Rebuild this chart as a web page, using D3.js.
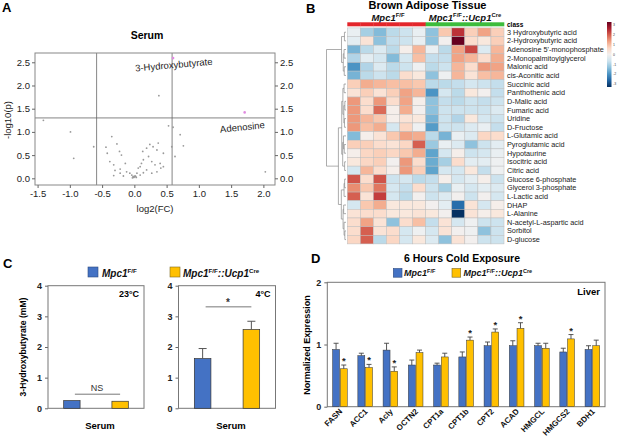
<!DOCTYPE html>
<html>
<head>
<meta charset="utf-8">
<script src="https://cdn.jsdelivr.net/npm/d3@7"></script>
<style>
  body { margin: 0; background: #fff; }
  svg { font-family: "Liberation Sans", Arial, sans-serif; }
</style>
</head>
<body>
<div id="chart"></div>
<script>
// ---------- data ----------
// A: volcano plot (serum)
const volcanoFC = [-1.41,-0.99,-0.94,-0.63,0.38,0.53,0.60,0.71,0.76,0.63,0.58,2.03,-0.35,-0.27,-0.44,-0.42,-0.38,-0.32,-0.30,-0.32,-0.23,-0.20,-0.14,-0.12,-0.04,-0.02,0.01,0.04,0.06,0.09,0.11,0.14,0.13,0.19,0.24,0.29,0.35,0.37,0.22,0.27,0.32,0.40,0.45,0.41,0.35,0.27,0.19,0.14,0.09,0.03,-0.03,-0.07,-0.17,-0.22,-0.22,0.45,0.00,-0.01,0.02];
const volcanoLogP = [1.25,1.00,0.43,0.68,1.78,1.13,1.10,0.94,0.70,0.47,0.68,0.14,0.90,0.74,0.67,0.54,0.36,0.29,0.17,0.06,0.58,0.50,0.32,0.14,0.07,0.04,0.05,0.11,0.22,0.25,0.32,0.40,0.58,0.65,0.73,0.68,0.61,0.76,0.47,0.36,0.29,0.32,0.54,0.22,0.14,0.11,0.18,0.12,0.07,0.02,0.01,0.11,0.05,0.11,0.20,0.25,0.03,0.02,0.04];
const sigNames = ["3-Hydroxybutyrate", "Adenosine"];
const sigFC = [0.60, 1.71];
const sigLogP = [2.59, 1.42];
const volcanoXTicks = [-1.5, -1.0, -0.5, 0.0, 0.5, 1.0, 1.5, 2.0];
const volcanoYTicks = [0.0, 0.5, 1.0, 1.5, 2.0, 2.5];

// B: heatmap (brown adipose tissue)
const metabolites = ["3 Hydroxybutyric acid","2-Hydroxybutyric acid","Adenosine 5'-monophosphate","2-Monopalmitoylglycerol","Malonic acid","cis-Aconitic acid","Succinic acid","Panthothenic acid","D-Malic acid","Fumaric acid","Uridine","D-Fructose","L-Glutamic acid","Pyroglutamic acid","Hypotaurine","Isocitric acid","Citric acid","Glucose 6-phosphate","Glycerol 3-phosphate","L-Lactic acid","DHAP","L-Alanine","N-acetyl-L-aspartic acid","Sorbitol","D-glucose"];
const sampleGroups = ["F","F","F","F","F","F","C","C","C","C","C","C"];
const heatValues = [
  [-0.2,-1.0,-1.3,-0.8,-0.6,-0.2, -1.2, 0.8, 2.2, 0.7, 1.2, 0.7],
  [-0.3, 0.4,-1.2,-0.7,-0.6,-0.2, -1.2, 0.0, 3.0, 0.5, 0.3, 0.7],
  [-1.4,-0.8,-0.4,-0.8, 0.1, 1.0, -0.2,-0.8, 1.2, 2.0,-0.4, 1.0],
  [-0.9,-0.3,-0.5,-1.3,-0.5, 0.9, -0.7,-0.7, 1.2, 1.0, 0.5, 1.1],
  [-1.8,-0.9,-0.4,-0.8,-0.6,-0.1, -0.8,-0.6, 1.0, 0.5, 1.3, 1.2],
  [-1.4,-0.8,-0.6,-0.8, 0.5, 0.3, -1.2,-0.1, 1.0, 0.4, 0.9, 1.0],
  [ 0.7, 1.1, 1.0, 0.9, 0.9, 0.8, -0.8,-0.8,-0.7,-0.5,-0.6,-0.7],
  [ 0.4, 0.7, 0.4, 0.7, 1.2, 1.0, -1.8,-0.5,-0.8, 0.3, 0.0,-0.7],
  [ 1.3, 0.5, 1.3, 0.5, 1.2, 0.1, -1.2,-0.7,-0.8,-0.6,-0.7,-0.6],
  [ 1.3, 0.5, 1.7, 0.1, 1.1, 0.0, -1.2,-0.6,-0.6,-0.6,-0.6,-0.4],
  [ 1.3, 1.0, 0.8, 0.1, 0.4, 0.3, -1.4,-0.6,-0.9, 0.3,-0.5,-0.6],
  [ 1.3, 0.9, 1.1,-0.5, 0.6,-0.1, -1.7,-0.6,-0.6,-0.4,-0.2,-0.7],
  [-1.3, 0.1, 0.4, 0.8, 1.2, 1.1, -0.8,-1.4,-0.2,-0.4, 0.6, 0.5],
  [ 0.7, 0.7, 0.5, 0.4, 0.6, 1.8, -1.1,-0.2,-0.4,-1.2,-0.6,-0.3],
  [ 0.1, 0.6, 0.7, 0.6, 0.8, 1.1, -1.6,-0.5, 0.1,-0.6,-0.5,-0.2],
  [ 0.3, 0.6, 0.7, 0.0, 1.3, 0.5, -1.5,-1.0, 0.5,-0.3,-0.3,-0.1],
  [-0.5, 1.0, 0.5, 0.1, 1.3, 0.7, -1.6,-0.5,-0.5, 0.3,-0.7,-0.1],
  [ 1.9, 0.5, 1.9,-0.6,-0.5,-0.8, -0.7, 0.1,-0.5,-0.3, 0.1,-0.6],
  [ 1.4, 0.8, 1.6,-0.5,-0.7, 0.5, -0.6,-1.0,-0.2,-0.5,-0.3,-0.4],
  [ 1.8, 0.4, 2.1,-0.5,-0.8, 0.0, -0.6,-0.4, 0.0,-0.6, 0.0,-0.5],
  [-0.5, 0.8, 1.1, 0.3, 0.3, 0.3,  0.0,-0.3,-2.3, 0.4,-0.5, 0.1],
  [ 0.4, 0.5, 0.5, 0.3, 0.3, 0.4,  0.3, 0.0,-3.0, 0.4, 0.1, 0.3],
  [ 0.5, 1.2, 0.4,-1.2, 0.5, 0.9, -0.7, 0.4,-0.5,-0.1,-0.6,-0.6],
  [ 0.5, 1.8, 0.4, 0.5,-0.5,-0.1, -0.5, 0.4, 0.0,-0.1,-1.2,-0.6],
  [ 0.6, 1.8,-0.8, 0.6,-0.5, 0.3, -0.4,-1.2, 0.4, 0.0,-0.6,-0.6]
];
// row dendrogram: [left, right, height]; numbers are row indices
const rowTree = [
  [[0, 1, 0.8], [[2, 3, 1.0], [4, 5, 0.9], 1.4], 2.3],
  [
    [[[6, 7, 1.0], [[8, 9, 0.6], [10, 11, 0.8], 1.1], 1.6], [[12, [13, 14, 0.9], 1.3], [15, 16, 0.7], 1.7], 2.2],
    [[[17, 18, 0.7], 19, 1.0], [[20, 21, 1.2], [22, [23, 24, 0.6], 1.0], 1.5], 2.4],
    3.9
  ],
  10
];
const legendTicks = [3, 2, 1, 0, -1, -2, -3];

// C: serum 3-hydroxybutyrate
const genotypes = ["Mpc1F/F", "Mpc1F/F::Ucp1Cre"];
const serum23 = [0.25, 0.23];
const serum23Err = [0, 0];
const serum4 = [1.62, 2.57];
const serum4Err = [0.33, 0.27];
const serumTicks = [0, 1, 2, 3, 4];

// D: liver gene expression after 6 h cold
const genes = ["FASN","ACC1","Acly","OCTN2","CPT1a","CPT1b","CPT2","ACAD","HMGCL","HMGCS2","BDH1"];
const liverWT = [0.92, 0.82, 0.91, 0.67, 0.67, 0.80, 0.98, 0.98, 0.98, 0.88, 0.92];
const liverWTErr = [0.10, 0.04, 0.11, 0.08, 0.03, 0.08, 0.06, 0.08, 0.04, 0.06, 0.06];
const liverKO = [0.61, 0.63, 0.57, 0.87, 0.80, 1.07, 1.20, 1.26, 0.94, 1.09, 0.98];
const liverKOErr = [0.06, 0.05, 0.07, 0.04, 0.06, 0.05, 0.05, 0.09, 0.08, 0.07, 0.09];
const liverSig = [1, 1, 1, 0, 0, 1, 1, 1, 0, 1, 0];

const blue = "#4472c4", yellow = "#ffc000";

// ---------- svg ----------
const svg = d3.select("#chart").append("svg")
  .attr("width", 617).attr("height", 446);

function panelLetter(t, x, y) {
  svg.append("text").attr("x", x).attr("y", y)
    .attr("font-size", 13).attr("font-weight", "bold").text(t);
}

// genotype label with superscripts
function genoLabel(g, x, y, size, cre, anchor) {
  const t = g.append("text").attr("x", x).attr("y", y)
    .attr("font-size", size).attr("font-weight", "bold")
    .attr("font-style", "italic").attr("fill", "#111")
    .attr("text-anchor", anchor || "start");
  const up = size * 0.38, sup = size * 0.62;
  t.append("tspan").text("Mpc1");
  t.append("tspan").attr("font-size", sup).attr("font-style", "normal").attr("dy", -up).text("F/F");
  if (cre) {
    t.append("tspan").attr("dy", up).text("::Ucp1");
    t.append("tspan").attr("font-size", sup).attr("font-style", "normal").attr("dy", -up).text("Cre");
  }
  return t;
}

// ================= Panel A =================
panelLetter("A", 2, 12);
const ax = d3.scaleLinear().domain([-1.54, 2.18]).range([35, 275]);
const ay = d3.scaleLinear().domain([-0.144, 2.70]).range([185, 53]);
const gA = svg.append("g");

gA.append("text").attr("x", 147).attr("y", 39).attr("text-anchor", "middle")
  .attr("font-size", 10.5).attr("font-weight", "bold").text("Serum");

// threshold lines
gA.append("line").attr("x1", ax(-0.585)).attr("x2", ax(-0.585)).attr("y1", 53).attr("y2", 185);
gA.append("line").attr("x1", ax(0.585)).attr("x2", ax(0.585)).attr("y1", 53).attr("y2", 185);
gA.append("line").attr("x1", 35).attr("x2", 275).attr("y1", ay(1.301)).attr("y2", ay(1.301));
gA.selectAll("line").attr("stroke", "#666").attr("stroke-width", 0.8);

gA.append("rect").attr("x", 35).attr("y", 53).attr("width", 240).attr("height", 132)
  .attr("fill", "none").attr("stroke", "#888").attr("stroke-width", 1);

const fmt1 = d => d.toFixed(1);
function styleAxis(g, size, weight) {
  g.select(".domain").remove();
  g.selectAll(".tick line").attr("stroke", "#666");
  g.selectAll(".tick text").attr("font-size", size).attr("fill", "#222")
    .attr("font-family", "Liberation Sans, Arial, sans-serif")
    .attr("font-weight", weight || "normal");
}
gA.append("g").attr("transform", "translate(0,185)")
  .call(d3.axisBottom(ax).tickValues(volcanoXTicks).tickFormat(fmt1).tickSize(3).tickPadding(2))
  .call(g => styleAxis(g, 9.5));
gA.append("g").attr("transform", "translate(35,0)")
  .call(d3.axisLeft(ay).tickValues(volcanoYTicks).tickFormat(fmt1).tickSize(3).tickPadding(2))
  .call(g => styleAxis(g, 9.5));
gA.append("g").attr("transform", "translate(275,0)")
  .call(d3.axisRight(ay).tickValues(volcanoYTicks).tickFormat(fmt1).tickSize(3).tickPadding(2))
  .call(g => styleAxis(g, 9.5));

gA.append("text").attr("x", 155).attr("y", 212).attr("text-anchor", "middle")
  .attr("font-size", 9.5).attr("fill", "#222").text("log2(FC)");
gA.append("text").attr("transform", "translate(11,120) rotate(-90)").attr("text-anchor", "middle")
  .attr("font-size", 9.5).attr("fill", "#222").text("-log10(p)");

gA.selectAll(".pt").data(volcanoFC.map((d, i) => [d, volcanoLogP[i]])).join("circle")
  .attr("cx", d => ax(d[0])).attr("cy", d => ay(d[1])).attr("r", 0.9)
  .attr("fill", "#999");
gA.selectAll(".sig").data(sigNames).join("circle")
  .attr("cx", (d, i) => ax(sigFC[i])).attr("cy", (d, i) => ay(sigLogP[i])).attr("r", 1.3)
  .attr("fill", "#e08ae0");
gA.append("text").attr("transform", `translate(${ax(0.60) + 1},${ay(2.59) + 10}) rotate(-5)`)
  .attr("text-anchor", "middle").attr("font-size", 9.5).attr("fill", "#222").text(sigNames[0]);
gA.append("text").attr("transform", `translate(${ax(1.71) - 2},${ay(1.42) + 18}) rotate(-6)`)
  .attr("text-anchor", "middle").attr("font-size", 9.5).attr("fill", "#222").text(sigNames[1]);

// ================= Panel B =================
panelLetter("B", 306, 12.5);
const gB = svg.append("g");
gB.append("text").attr("x", 427.5).attr("y", 9).attr("text-anchor", "middle")
  .attr("font-size", 11).attr("font-weight", "bold").text("Brown Adipose Tissue");
genoLabel(gB, 388, 20.5, 9.5, false, "middle");
genoLabel(gB, 465, 20.5, 9.5, true, "middle");

const hx = d3.scaleBand().domain(d3.range(12)).range([347.3, 504]);
const hy = d3.scaleBand().domain(d3.range(metabolites.length)).range([27.9, 27.9 + 8.64 * 25]);
const heatColor = d3.scaleDiverging(t => d3.interpolateRdBu(1 - t)).domain([-3, 0, 3]);

// class bar
gB.selectAll(".cls").data(sampleGroups).join("rect")
  .attr("x", (d, i) => hx(i)).attr("y", 22.3).attr("width", hx.bandwidth() + 0.3).attr("height", 4)
  .attr("fill", d => d === "F" ? "#e3262b" : "#3cbc3c");
gB.append("text").attr("x", 507).attr("y", 26.5).attr("font-size", 6.5).attr("font-weight", "bold").text("class");

const cells = [];
heatValues.forEach((row, r) => row.forEach((v, c) => cells.push({ r, c, v })));
gB.selectAll(".cell").data(cells).join("rect")
  .attr("x", d => hx(d.c)).attr("y", d => hy(d.r))
  .attr("width", hx.bandwidth()).attr("height", hy.bandwidth())
  .attr("fill", d => heatColor(d.v))
  .attr("stroke", "#bdbdbd").attr("stroke-width", 0.5);

gB.selectAll(".rl").data(metabolites).join("text")
  .attr("x", 507).attr("y", (d, i) => hy(i) + hy.bandwidth() / 2).attr("dy", "0.35em")
  .attr("font-size", 7.3).attr("fill", "#222").text(d => d);

// dendrogram
const dx = d3.scaleLinear().domain([0, 10]).range([346, 326.5]);
function drawTree(node) {
  if (typeof node === "number") return { y: hy(node) + hy.bandwidth() / 2, h: 0 };
  const a = drawTree(node[0]), b = drawTree(node[1]), h = node[2];
  gB.append("path")
    .attr("d", `M${dx(a.h)},${a.y}H${dx(h)}V${b.y}H${dx(b.h)}`)
    .attr("fill", "none").attr("stroke", "#8a8a8a").attr("stroke-width", 0.7);
  return { y: (a.y + b.y) / 2, h };
}
drawTree(rowTree);

// colour key
const defs = svg.append("defs");
const grad = defs.append("linearGradient").attr("id", "hmgrad")
  .attr("x1", 0).attr("x2", 0).attr("y1", 0).attr("y2", 1);
d3.range(0, 1.001, 0.1).forEach(t => {
  grad.append("stop").attr("offset", t).attr("stop-color", heatColor(3 - 6 * t));
});
gB.append("rect").attr("x", 607).attr("y", 22).attr("width", 4.5).attr("height", 65)
  .attr("fill", "url(#hmgrad)");
const ky = d3.scaleLinear().domain([3.2, -3.2]).range([23, 86]);
gB.selectAll(".kt").data(legendTicks).join("text")
  .attr("x", 613).attr("y", d => ky(d)).attr("dy", "0.35em")
  .attr("font-size", 3.5).attr("fill", "#444").text(d => d);

// ================= Panel C =================
panelLetter("C", 3, 267.5);
const gC = svg.append("g");
gC.append("rect").attr("x", 88).attr("y", 267).attr("width", 10).attr("height", 10)
  .attr("fill", blue).attr("stroke", "#2c4a80").attr("stroke-width", 0.6);
genoLabel(gC, 102, 276.5, 10, false);
gC.append("rect").attr("x", 170).attr("y", 267).attr("width", 10).attr("height", 10)
  .attr("fill", yellow).attr("stroke", "#7f6a20").attr("stroke-width", 0.6);
genoLabel(gC, 183, 276.5, 10, true);

const cy = d3.scaleLinear().domain([0, 4]).range([408.3, 285.7]);
gC.append("text").attr("transform", "translate(26,347) rotate(-90)").attr("text-anchor", "middle")
  .attr("font-size", 8.6).attr("font-weight", "bold").text("3-Hydroxybutyrate (mM)");

function serumPlot(x0, x1, vals, errs, tempLabel, sigText, sigY) {
  const g = gC.append("g");
  const bx = d3.scaleBand().domain(genotypes).range([x0, x1]).paddingInner(0.66).paddingOuter(0.325);
  g.append("g").attr("transform", `translate(${x0},0)`)
    .call(d3.axisLeft(cy).tickValues(serumTicks).tickFormat(d3.format("d")).tickSize(3).tickPadding(3))
    .call(a => styleAxis(a, 9, "bold"));
  g.append("rect").attr("x", x0).attr("y", cy(4)).attr("width", x1 - x0).attr("height", cy(0) - cy(4))
    .attr("fill", "none").attr("stroke", "#777").attr("stroke-width", 1);
  g.selectAll(".bar").data(genotypes).join("rect")
    .attr("x", d => bx(d)).attr("width", bx.bandwidth())
    .attr("y", (d, i) => cy(vals[i])).attr("height", (d, i) => cy(0) - cy(vals[i]))
    .attr("fill", (d, i) => i ? yellow : blue).attr("stroke", "#333").attr("stroke-width", 0.7);
  genotypes.forEach((d, i) => {
    if (!errs[i]) return;
    const cx = bx(d) + bx.bandwidth() / 2;
    g.append("path").attr("d", `M${cx},${cy(vals[i])}V${cy(vals[i] + errs[i])}M${cx - 4},${cy(vals[i] + errs[i])}H${cx + 4}`)
      .attr("stroke", "#555").attr("stroke-width", 1).attr("fill", "none");
  });
  const c0 = bx(genotypes[0]) + bx.bandwidth() / 2, c1 = bx(genotypes[1]) + bx.bandwidth() / 2;
  g.append("line").attr("x1", c0 + 3).attr("x2", c1).attr("y1", cy(sigY)).attr("y2", cy(sigY))
    .attr("stroke", "#777").attr("stroke-width", 1);
  g.append("text").attr("x", (c0 + c1) / 2 + 1).attr("y", cy(sigY) - (sigText === "*" ? 1 : 3))
    .attr("text-anchor", "middle").attr("font-size", sigText === "*" ? 10 : 9)
    .attr("font-weight", sigText === "*" ? "bold" : "normal").attr("fill", "#333").text(sigText);
  g.append("text").attr("x", x1 - 5).attr("y", 297).attr("text-anchor", "end")
    .attr("font-size", 9).attr("font-weight", "bold").text(tempLabel);
  g.append("text").attr("x", (x0 + x1) / 2 + 4).attr("y", 429).attr("text-anchor", "middle")
    .attr("font-size", 9.5).attr("font-weight", "bold").text("Serum");
}
serumPlot(48, 144, serum23, serum23Err, "23°C", "NS", 0.46);
serumPlot(178.5, 275.5, serum4, serum4Err, "4°C", "*", 3.31);

// ================= Panel D =================
panelLetter("D", 311, 262.5);
const gD = svg.append("g");
gD.append("text").attr("x", 462).attr("y", 262.3).attr("text-anchor", "middle")
  .attr("font-size", 10.5).attr("font-weight", "bold").text("6 Hours Cold Exposure");
gD.append("rect").attr("x", 393.3).attr("y", 268.5).attr("width", 8.7).attr("height", 8.7)
  .attr("fill", blue).attr("stroke", "#2c4a80").attr("stroke-width", 0.6);
genoLabel(gD, 404, 276, 9, false);
gD.append("rect").attr("x", 452).attr("y", 268.5).attr("width", 8.7).attr("height", 8.7)
  .attr("fill", yellow).attr("stroke", "#7f6a20").attr("stroke-width", 0.6);
genoLabel(gD, 463.5, 276, 9, true);

const dxs = d3.scaleBand().domain(genes).range([327.3, 605]).paddingInner(0.42).paddingOuter(0.21);
const dsub = d3.scaleBand().domain([0, 1]).range([0, dxs.bandwidth()]).paddingInner(0.1);
const dy = d3.scaleLinear().domain([0, 2]).range([406.7, 282.3]);

gD.append("g").attr("transform", "translate(327.3,0)")
  .call(d3.axisLeft(dy).ticks(2).tickFormat(d3.format("d")).tickSize(3).tickPadding(3))
  .call(a => styleAxis(a, 9, "bold"));
gD.append("rect").attr("x", 327.3).attr("y", 282.3).attr("width", 605 - 327.3).attr("height", 406.7 - 282.3)
  .attr("fill", "none").attr("stroke", "#777").attr("stroke-width", 1);
gD.append("text").attr("transform", "translate(310,345) rotate(-90)").attr("text-anchor", "middle")
  .attr("font-size", 9).attr("font-weight", "bold").text("Normalized Expression");
gD.append("text").attr("x", 600).attr("y", 295).attr("text-anchor", "end")
  .attr("font-size", 9.5).attr("font-weight", "bold").text("Liver");

const liverRows = genes.map((g, i) => [
  { gene: g, k: 0, v: liverWT[i], e: liverWTErr[i], s: 0 },
  { gene: g, k: 1, v: liverKO[i], e: liverKOErr[i], s: liverSig[i] }
]).flat();

gD.selectAll(".dbar").data(liverRows).join("rect")
  .attr("x", d => dxs(d.gene) + dsub(d.k)).attr("width", dsub.bandwidth())
  .attr("y", d => dy(d.v)).attr("height", d => dy(0) - dy(d.v))
  .attr("fill", d => d.k ? yellow : blue).attr("stroke", "#333").attr("stroke-width", 0.5);
gD.selectAll(".derr").data(liverRows).join("path")
  .attr("d", d => {
    const cx = dxs(d.gene) + dsub(d.k) + dsub.bandwidth() / 2, t = dy(d.v + d.e);
    return `M${cx},${dy(d.v)}V${t}M${cx - 2.5},${t}H${cx + 2.5}`;
  })
  .attr("stroke", "#444").attr("stroke-width", 0.9).attr("fill", "none");
gD.selectAll(".dstar").data(liverRows.filter(d => d.s)).join("text")
  .attr("x", d => dxs(d.gene) + dsub(d.k) + dsub.bandwidth() / 2)
  .attr("y", d => dy(d.v + d.e) - 1)
  .attr("text-anchor", "middle").attr("font-size", 9.5).attr("font-weight", "bold").attr("fill", "#222").text("*");

gD.selectAll(".glab").data(genes).join("text")
  .attr("transform", d => `translate(${dxs(d) + dxs.bandwidth() / 2 + 3},${412}) rotate(-45)`)
  .attr("text-anchor", "end").attr("font-size", 8).attr("font-weight", "bold").attr("fill", "#111")
  .text(d => d);
</script>
</body>
</html>
